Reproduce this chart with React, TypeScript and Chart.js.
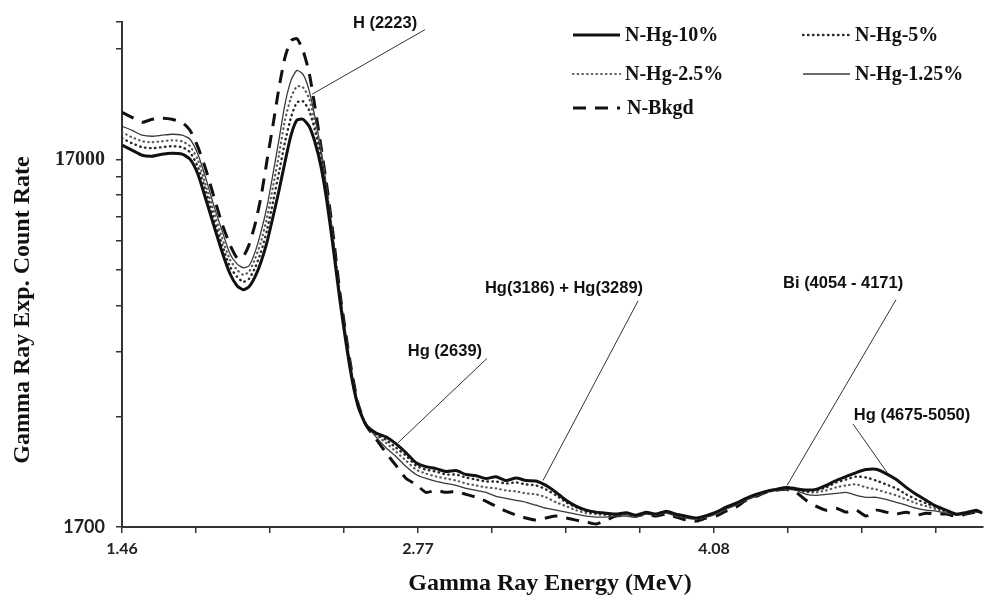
import React, { useEffect, useRef } from "react";
import { Chart, registerables } from "chart.js";

Chart.register(...registerables);

// Gamma ray energy (MeV) for every sample
const energyMeV = [
  1.46, 1.504, 1.549, 1.593, 1.637, 1.681, 1.726, 1.761, 1.796, 1.832, 1.867, 1.903, 1.938,
  1.969, 1.996, 2.022, 2.049, 2.075, 2.102, 2.128, 2.155, 2.181, 2.208, 2.234, 2.261, 2.288,
  2.314, 2.341, 2.367, 2.394, 2.425, 2.469, 2.504, 2.54, 2.584, 2.628, 2.673, 2.717, 2.761,
  2.805, 2.85, 2.894, 2.938, 2.982, 3.027, 3.071, 3.115, 3.159, 3.204, 3.248, 3.292, 3.336,
  3.381, 3.425, 3.469, 3.514, 3.558, 3.602, 3.646, 3.691, 3.735, 3.779, 3.823, 3.868, 3.912,
  3.956, 4.0, 4.045, 4.089, 4.133, 4.177, 4.222, 4.266, 4.31, 4.354, 4.399, 4.443, 4.487,
  4.531, 4.576, 4.62, 4.664, 4.709, 4.753, 4.797, 4.841, 4.886, 4.93, 4.974, 5.018, 5.063,
  5.107, 5.151, 5.195, 5.24, 5.266,
];

const nHg10 = [
  18600, 18030, 17470, 17360, 17580, 17690, 17580, 17040, 15510, 13190, 11210, 9530, 8310,
  7710, 7520, 7660, 8160, 8950, 10150, 11860, 14040, 16720, 19800, 21750, 21880, 20940,
  18950, 16210, 13030, 9840, 6980, 4600, 3630, 3220, 3065, 2990, 2863, 2707, 2544,
  2482, 2451, 2406, 2421, 2362, 2345, 2304, 2330, 2275, 2310, 2275, 2268, 2206,
  2112, 2010, 1937, 1889, 1866, 1854, 1843, 1860, 1831, 1866, 1843, 1877, 1843,
  1820, 1798, 1825, 1866, 1925, 1973, 2035, 2086, 2125, 2152, 2179, 2160, 2145,
  2152, 2206, 2275, 2332, 2391, 2436, 2440, 2376, 2289, 2179, 2086, 2010, 1937,
  1889, 1843, 1860, 1889, 1854,
];

const nHg5 = [
  19430, 18830, 18370, 18250, 18370, 18480, 18370, 17800, 16210, 13870, 11720, 9960, 8680,
  8160, 7900, 8050, 8630, 9530, 10940, 13030, 15710, 18950, 22150, 24320, 24480, 23150,
  20420, 17250, 13610, 10150, 7110, 4680, 3650, 3222, 3046, 2935, 2793, 2657, 2497,
  2436, 2406, 2362, 2362, 2318, 2289, 2261, 2261, 2233, 2247, 2220, 2206, 2152,
  2073, 1985, 1925, 1877, 1854, 1843, 1831, 1843, 1831, 1854, 1843, 1866, 1831,
  1809, 1798, 1820, 1866, 1925, 1973, 2035, 2086, 2125, 2152, 2179, 2165, 2125,
  2138, 2179, 2247, 2289, 2332, 2318, 2275, 2220, 2165, 2086, 2022, 1973, 1925,
  1877, 1843, 1854, 1877, 1854,
];

const nHg2_5 = [
  20170, 19550, 19060, 18950, 19060, 19180, 19060, 18480, 16940, 14390, 12240, 10400, 9070,
  8520, 8260, 8410, 9130, 10150, 11860, 14310, 17580, 21750, 25100, 26890, 26720, 24940,
  21460, 17800, 13870, 10340, 7200, 4740, 3672, 3242, 3027, 2881, 2724, 2576, 2436,
  2376, 2332, 2304, 2275, 2233, 2206, 2179, 2165, 2138, 2125, 2099, 2086, 2048,
  1985, 1937, 1889, 1854, 1843, 1831, 1831, 1831, 1820, 1854, 1831, 1866, 1831,
  1809, 1787, 1809, 1854, 1913, 1961, 2022, 2073, 2112, 2138, 2165, 2152, 2112,
  2112, 2138, 2179, 2206, 2220, 2179, 2152, 2112, 2073, 2022, 1973, 1937, 1901,
  1866, 1843, 1854, 1877, 1854,
];

const nHg1_25 = [
  20940, 20420, 19800, 19670, 19800, 19920, 19800, 19310, 17580, 15040, 12700, 10870, 9410,
  8840, 8630, 8730, 9530, 10800, 12700, 15510, 19310, 24020, 27920, 29710, 28980, 26230,
  22150, 18030, 14040, 10470, 7290, 4800, 3695, 3242, 2990, 2793, 2641, 2482, 2362,
  2304, 2261, 2233, 2206, 2165, 2138, 2112, 2060, 2035, 2010, 1985, 1949, 1913,
  1889, 1866, 1843, 1820, 1809, 1809, 1820, 1820, 1809, 1843, 1831, 1854, 1820,
  1798, 1787, 1809, 1843, 1901, 1949, 2010, 2060, 2112, 2138, 2152, 2138, 2086,
  2073, 2086, 2099, 2112, 2073, 2048, 2048, 2022, 1985, 1949, 1913, 1889, 1877,
  1854, 1831, 1843, 1866, 1854,
];

const nBkgd = [
  22850, 22150, 21460, 21880, 22020, 21880, 21460, 20420, 18370, 15900, 13440, 11350, 9960,
  9180, 9240, 9960, 11350, 13440, 16940, 21070, 26720, 32220, 35810, 36270, 33660, 29340,
  23580, 18370, 14310, 10670, 7330, 4800, 3695, 3222, 2953, 2707, 2497, 2304, 2220,
  2112, 2138, 2112, 2125, 2086, 2048, 1997, 1937, 1877, 1831, 1798, 1775, 1798,
  1820, 1798, 1775, 1754, 1732, 1775, 1820, 1831, 1820, 1843, 1820, 1843, 1809,
  1775, 1764, 1798, 1820, 1877, 1925, 2010, 2060, 2112, 2138, 2152, 2112, 2010,
  1937, 1889, 1913, 1866, 1889, 1820, 1889, 1866, 1843, 1866, 1831, 1854, 1843,
  1843, 1820, 1843, 1866, 1854,
];

const seriesNames = ["N-Hg-10%", "N-Hg-5%", "N-Hg-2.5%", "N-Hg-1.25%", "N-Bkgd"];

// Axis ticks
const xTickValues = [1.46, 1.7875, 2.115, 2.4425, 2.77, 3.0975, 3.425, 3.7525, 4.08, 4.4075, 4.735, 5.0625];
const xTickLabels = ["1.46", "", "", "", "2.77", "", "", "", "4.08", "", "", ""];
const yTickValues = [1700, 3400, 5100, 6800, 8500, 10200, 11900, 13600, 15300, 17000, 34000, 40300];
const yTickLabels = ["1700", "", "", "", "", "", "", "", "", "17000", "", ""];

// Peak annotations (data coordinates)
const annotationText = ["H (2223)", "Hg (2639)", "Hg(3186) + Hg(3289)", "Bi (4054 - 4171)", "Hg (4675-5050)"];
const annotationX = [2.624, 2.889, 3.416, 4.651, 4.956];
const annotationY = [39800, 5100, 7567, 7805, 3429];
const leaderFromX = [2.801, 3.075, 3.744, 4.885, 4.695];
const leaderFromY = [38370, 4888, 7018, 7061, 3242];
const leaderToX = [2.301, 2.681, 3.323, 4.403, 4.846];
const leaderToY = [25600, 2881, 2275, 2206, 2391];

const W = 984;
const H = 598;

const styles = [
  { color: "#111111", width: 3, dash: [] as number[], cap: "butt" },
  { color: "#2a2a2a", width: 2.4, dash: [0.5, 4.5], cap: "round" },
  { color: "#5a5a5a", width: 2.2, dash: [0.5, 4.2], cap: "round" },
  { color: "#3a3a3a", width: 1.3, dash: [] as number[], cap: "butt" },
  { color: "#111111", width: 3, dash: [13, 9], cap: "butt" },
];
const seriesData = [nHg10, nHg5, nHg2_5, nHg1_25, nBkgd];

const legendLayout = [
  { x1: 573, x2: 620, tx: 625, y: 35 },
  { x1: 803, x2: 850, tx: 855, y: 35 },
  { x1: 573, x2: 620, tx: 625, y: 74 },
  { x1: 803, x2: 850, tx: 855, y: 74 },
  { x1: 573, x2: 620, tx: 627, y: 108 },
];

const overlayPlugin = {
  id: "overlay",
  afterDraw(chart: any) {
    const { ctx, scales } = chart;
    const xs = scales.x;
    const ys = scales.y;
    ctx.save();
    // leader lines
    ctx.strokeStyle = "#333";
    ctx.lineWidth = 1;
    ctx.setLineDash([]);
    for (let i = 0; i < annotationText.length; i++) {
      ctx.beginPath();
      ctx.moveTo(xs.getPixelForValue(leaderFromX[i]), ys.getPixelForValue(leaderFromY[i]));
      ctx.lineTo(xs.getPixelForValue(leaderToX[i]), ys.getPixelForValue(leaderToY[i]));
      ctx.stroke();
    }
    ctx.fillStyle = "#111";
    ctx.font = 'bold 16.5px "Liberation Sans", Arial, sans-serif';
    ctx.textAlign = "center";
    ctx.textBaseline = "middle";
    for (let i = 0; i < annotationText.length; i++) {
      ctx.fillText(annotationText[i], xs.getPixelForValue(annotationX[i]), ys.getPixelForValue(annotationY[i]));
    }
    // legend
    ctx.font = 'bold 20px "Liberation Serif", "Times New Roman", serif';
    ctx.textAlign = "left";
    for (let i = 0; i < seriesNames.length; i++) {
      const L = legendLayout[i];
      const s = styles[i];
      ctx.strokeStyle = s.color;
      ctx.lineWidth = s.width;
      ctx.lineCap = s.cap;
      ctx.setLineDash(s.dash);
      ctx.beginPath();
      ctx.moveTo(L.x1, L.y);
      ctx.lineTo(L.x2, L.y);
      ctx.stroke();
      ctx.setLineDash([]);
      ctx.lineCap = "butt";
      ctx.fillStyle = "#111";
      ctx.fillText(seriesNames[i], L.tx, L.y + 1);
    }
    // axis titles
    ctx.font = 'bold 24px "Liberation Serif", "Times New Roman", serif';
    ctx.textAlign = "center";
    ctx.fillStyle = "#111";
    ctx.fillText("Gamma Ray Energy (MeV)", 550, 584);
    ctx.translate(23, 310);
    ctx.rotate(-Math.PI / 2);
    ctx.fillText("Gamma Ray Exp. Count Rate", 0, 0);
    ctx.restore();
  },
};

export default function App() {
  const ref = useRef<HTMLCanvasElement | null>(null);

  useEffect(() => {
    if (!ref.current) return;
    const datasets = seriesData.map((arr, i) => ({
      label: seriesNames[i],
      data: energyMeV.map((x, j) => ({ x, y: arr[j] })),
      borderColor: styles[i].color,
      borderWidth: styles[i].width,
      borderDash: styles[i].dash,
      borderCapStyle: styles[i].cap as any,
      pointRadius: 0,
      tension: 0.2,
      fill: false,
    }));
    const chart = new Chart(ref.current, {
      type: "line",
      data: { datasets },
      options: {
        animation: false,
        responsive: false,
        maintainAspectRatio: false,
        layout: { padding: { top: 17, right: 1, left: 0, bottom: 0 } },
        plugins: { legend: { display: false }, tooltip: { enabled: false } },
        scales: {
          x: {
            type: "linear",
            min: 1.46,
            max: 5.27,
            afterBuildTicks: (s: any) => {
              s.ticks = xTickValues.map((v) => ({ value: v }));
            },
            afterFit: (s: any) => {
              s.height = 71;
            },
            ticks: {
              autoSkip: false,
              maxRotation: 0,
              padding: 6,
              color: "#222",
              font: { family: "Lato, 'Open Sans', sans-serif", weight: "bold", size: 16 },
              callback: (_v: any, i: number) => xTickLabels[i] ?? "",
            },
            grid: { display: true, drawOnChartArea: false, drawTicks: true, tickLength: 6, color: "#333", lineWidth: 1.5 },
            border: { display: true, color: "#333", width: 2 },
          },
          y: {
            type: "logarithmic",
            min: 1700,
            max: 40300,
            afterBuildTicks: (s: any) => {
              s.ticks = yTickValues.map((v) => ({ value: v }));
            },
            afterFit: (s: any) => {
              s.width = 122;
            },
            ticks: {
              autoSkip: false,
              padding: 11,
              color: "#222",
              font: (c: any) =>
                c.tick && c.tick.value === 17000
                  ? { family: "'Liberation Serif', serif", weight: "bold", size: 20 }
                  : { family: "Lato, 'Open Sans', sans-serif", weight: "bold", size: 18 },
              callback: (_v: any, i: number) => yTickLabels[i] ?? "",
            },
            grid: { display: true, drawOnChartArea: false, drawTicks: true, tickLength: 6, color: "#333", lineWidth: 1.5 },
            border: { display: true, color: "#333", width: 2 },
          },
        },
      },
      plugins: [overlayPlugin],
    } as any);
    return () => chart.destroy();
  }, []);

  return (
    <div style={{ position: "fixed", left: 0, top: 0, width: W, height: H, background: "#fff" }}>
      <canvas ref={ref} width={W} height={H} style={{ width: W, height: H, display: "block" }} />
    </div>
  );
}
